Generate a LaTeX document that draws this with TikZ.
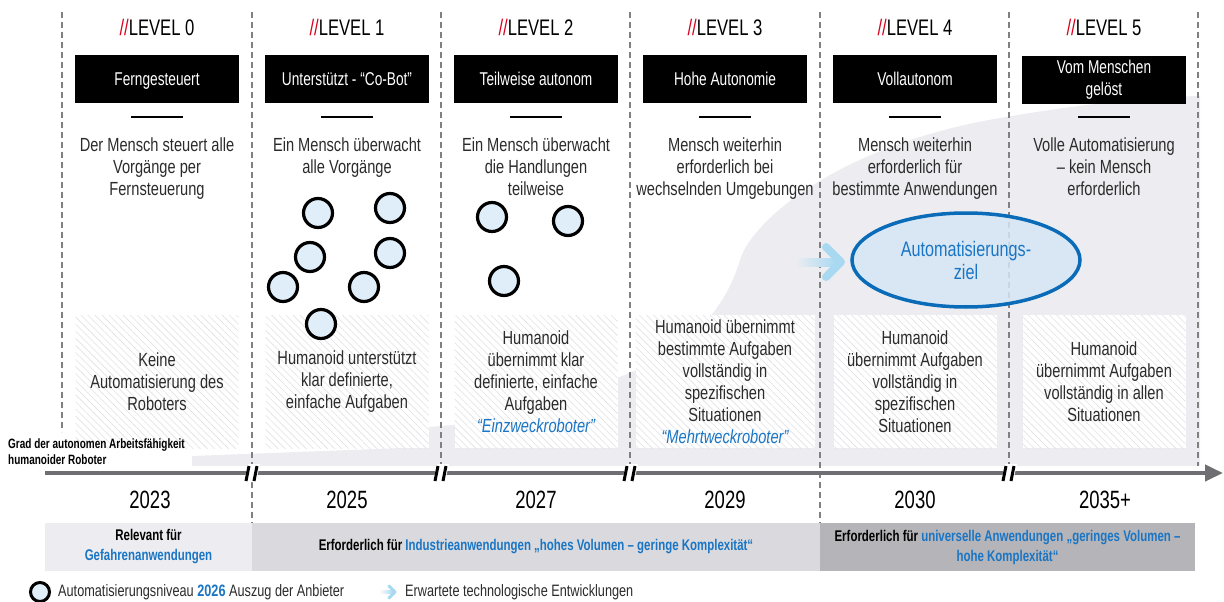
\documentclass[tikz,border=0pt]{standalone}
\usepackage{fontspec}
\setmainfont{Liberation Sans}[FakeStretch=0.77]
\newfontfamily\condfont{Liberation Sans}[FakeStretch=0.74]
\usepackage{xcolor}
\usepackage{tikz}
\usetikzlibrary{positioning}
\usetikzlibrary{arrows.meta}
\usetikzlibrary{patterns.meta}
\usetikzlibrary{shapes.geometric}

\definecolor{bggray}{HTML}{EDEDF1}
\definecolor{txtgray}{HTML}{2B2B2B}
\definecolor{lvlred}{HTML}{D8001C}
\definecolor{txtblue}{HTML}{1A75C4}
\definecolor{goalblue}{HTML}{0A6BB8}
\definecolor{goalfill}{HTML}{D5E6F4}
\definecolor{robofill}{HTML}{DFEEF8}
\definecolor{arrowblue}{HTML}{A9D9F1}
\definecolor{divgray}{HTML}{808080}
\definecolor{timegray}{HTML}{6E6E73}
\definecolor{hatchgray}{HTML}{E2E2E5}
\definecolor{bara}{HTML}{EDEDF1}
\definecolor{barb}{HTML}{DADADE}
\definecolor{barc}{HTML}{B5B5B9}

\begin{document}
\begin{tikzpicture}[x=1pt, y=-1pt, node distance=52pt, on grid, every node/.style={inner sep=0pt},
      lvl/.style={font=\condfont\fontsize{22.5}{24}\selectfont},
      lvlbox/.style={fill=black, text=white, minimum width=164pt, minimum height=48pt, align=center, font=\condfont\fontsize{18.5}{22}\selectfont},
      lvlone/.style={lvlbox, text height=13pt, text depth=0pt},
      rulebar/.style={fill=black, minimum width=52pt, minimum height=2.5pt},
      desc/.style={anchor=north, align=center, text=txtgray, font=\fontsize{19}{22}\selectfont},
      task/.style={minimum width=163pt, minimum height=133pt, align=center, text=txtgray, font=\fontsize{19}{22}\selectfont,
        preaction={fill=white}, pattern={Lines[angle=-45,distance=5pt,line width=0.6pt]}, pattern color=hatchgray},
      robot/.style={circle, draw=black, line width=3.2pt, fill=robofill, minimum size=29pt},
      goal/.style={ellipse, draw=goalblue, line width=3.5pt, fill=goalfill, fill opacity=0.85, text opacity=1,
        minimum width=228pt, minimum height=94pt, align=center, text=txtblue, font=\fontsize{21}{23}\selectfont},
      divider/.style={draw=divgray, line width=1.6pt, dash pattern=on 6pt off 4pt},
      brk/.style={draw=black, line width=3pt},
      yr/.style={font=\condfont\fontsize{25}{28}\selectfont},
      areabar/.style={minimum height=48pt, align=center, font=\condfont\bfseries\fontsize{15.5}{20}\selectfont}]

      \useasboundingbox (0,0) rectangle (1224,602);

      % background area
      \fill[bggray] (192,466) -- (192,456) -- (428,447) -- (428,427) -- (617,412) -- (617,378)
        .. controls (690,350) and (725,310) .. (740,260)
        .. controls (752,220) and (840,145) .. (1000,118)
        .. controls (1080,104) and (1150,97) .. (1200,96) -- (1200,466) -- cycle;

      \node[lvl] (lvl0) at (157,27) {\textcolor{lvlred}{//}LEVEL 0};
      \node[lvlone] (box0) [below=of lvl0] {Ferngesteuert};
      \node[rulebar] (rule0) [below=of box0, yshift=14pt] {};
      \node[desc] (desc0) at (157,138) {Der Mensch steuert alle\\Vorgänge per\\Fernsteuerung};
      \node[task] (task0) [below=of box0, yshift=-250.5pt] {Keine\\Automatisierung des\\Roboters};

      \node[lvl] (lvl1) at (347,27) {\textcolor{lvlred}{//}LEVEL 1};
      \node[lvlone] (box1) [below=of lvl1] {Unterstützt - “Co-Bot”};
      \node[rulebar] (rule1) [below=of box1, yshift=14pt] {};
      \node[desc] (desc1) at (347,138) {Ein Mensch überwacht\\alle Vorgänge};
      \node[task] (task1) [below=of box1, yshift=-250.5pt] {Humanoid unterstützt\\klar definierte,\\einfache Aufgaben};

      \node[lvl] (lvl2) at (536,27) {\textcolor{lvlred}{//}LEVEL 2};
      \node[lvlone] (box2) [below=of lvl2] {Teilweise autonom};
      \node[rulebar] (rule2) [below=of box2, yshift=14pt] {};
      \node[desc] (desc2) at (536,138) {Ein Mensch überwacht\\die Handlungen\\teilweise};
      \node[task] (task2) [below=of box2, yshift=-250.5pt] {Humanoid\\übernimmt klar\\definierte, einfache\\Aufgaben\\{\itshape\color{txtblue}“Einzweckroboter”}};

      \node[lvl] (lvl3) at (725,27) {\textcolor{lvlred}{//}LEVEL 3};
      \node[lvlone] (box3) [below=of lvl3] {Hohe Autonomie};
      \node[rulebar] (rule3) [below=of box3, yshift=14pt] {};
      \node[desc] (desc3) at (725,138) {Mensch weiterhin\\erforderlich bei\\wechselnden Umgebungen};
      \node[task, minimum width=179pt] (task3) [below=of box3, yshift=-250.5pt] {Humanoid übernimmt\\bestimmte Aufgaben\\vollständig in\\spezifischen\\Situationen\\{\itshape\color{txtblue}“Mehrtweckroboter”}};

      \node[lvl] (lvl4) at (915,27) {\textcolor{lvlred}{//}LEVEL 4};
      \node[lvlone] (box4) [below=of lvl4] {Vollautonom};
      \node[rulebar] (rule4) [below=of box4, yshift=14pt] {};
      \node[desc] (desc4) at (915,138) {Mensch weiterhin\\erforderlich für\\bestimmte Anwendungen};
      \node[task] (task4) [below=of box4, yshift=-250.5pt] {Humanoid\\übernimmt Aufgaben\\vollständig in\\spezifischen\\Situationen};

      \node[lvl] (lvl5) at (1104,27) {\textcolor{lvlred}{//}LEVEL 5};
      \node[lvlbox] (box5) [below=of lvl5, yshift=-1pt] {Vom Menschen\\gelöst};
      \node[rulebar] (rule5) [below=of lvl5, yshift=-38pt] {};
      \node[desc] (desc5) at (1104,138) {Volle Automatisierung\\– kein Mensch\\erforderlich};
      \node[task] (task5) [below=of lvl5, yshift=-302.5pt] {Humanoid\\übernimmt Aufgaben\\vollständig in allen\\Situationen};

      % level separators
      \draw[divider] (62,12) -- (62,432);
      \draw[divider] (252,12) -- (252,523);
      \draw[divider] (441,12) -- (441,466);
      \draw[divider] (630,12) -- (630,466);
      \draw[divider] (820,12) -- (820,523);
      \draw[divider] (1009,12) -- (1009,466);
      \draw[divider] (1198,12) -- (1198,466);

      % vendor levels 2026
      \node[robot] (r1a) at (318,213) {};
      \node[robot] (r1b) at (390,208) {};
      \node[robot] (r1c) at (310,257) {};
      \node[robot] (r1d) at (390,253) {};
      \node[robot] (r1e) at (283,287) {};
      \node[robot] (r1f) at (364,287) {};
      \node[robot] (r1g) at (321,324) {};
      \node[robot] (r2a) at (492,217) {};
      \node[robot] (r2b) at (568,221) {};
      \node[robot] (r2c) at (504,281) {};

      % target
      \node[goal] (goal) at (966,260) {Automatisierungs-\\ziel};
      \shade[left color=bggray, right color=arrowblue] (795,258) rectangle (836,266);
      \draw[arrowblue, line width=8pt, line cap=round, line join=round] (826,247) -- (841,262) -- (826,277);

      \node[anchor=west, align=left, font=\condfont\bfseries\fontsize{13.5}{16}\selectfont] (axis) at (8,452) {Grad der autonomen Arbeitsfähigkeit\\humanoider Roboter};

      % timeline
      \coordinate (tl0) at (45,473);
      \coordinate (tl1) at (1223,473);
      \draw[timegray, line width=4.4pt, -{Triangle[length=18pt,width=16pt]}] (tl0) -- (tl1);

      \fill[white] (244,482) -- (248,464) -- (260,464) -- (256,482) -- cycle;
      \draw[brk] (246,481) -- (249,466) (254,481) -- (257,466);
      \fill[white] (433,482) -- (437,464) -- (449,464) -- (445,482) -- cycle;
      \draw[brk] (435,481) -- (438,466) (443,481) -- (446,466);
      \fill[white] (622,482) -- (626,464) -- (638,464) -- (634,482) -- cycle;
      \draw[brk] (624,481) -- (627,466) (632,481) -- (635,466);
      \fill[white] (1001,482) -- (1005,464) -- (1017,464) -- (1013,482) -- cycle;
      \draw[brk] (1003,481) -- (1006,466) (1011,481) -- (1014,466);

      \node[yr] (yr0) at (150,500) {2023};
      \node[yr] (yr1) at (347,500) {2025};
      \node[yr] (yr2) at (536,500) {2027};
      \node[yr] (yr3) at (725,500) {2029};
      \node[yr] (yr4) at (915,500) {2030};
      \node[yr] (yr5) at (1105,500) {2035+};

      % application areas
      \node[areabar, fill=bara, minimum width=207pt] (area0) at (148.5,547) {Relevant für\\\textcolor{txtblue}{Gefahrenanwendungen}};
      \node[areabar, fill=barb, minimum width=568pt] (area1) at (536,547) {Erforderlich für \textcolor{txtblue}{Industrieanwendungen „hohes Volumen – geringe Komplexität“}};
      \node[areabar, fill=barc, minimum width=375pt] (area2) at (1007.5,547) {Erforderlich für \textcolor{txtblue}{universelle Anwendungen „geringes Volumen –}\\\textcolor{txtblue}{hohe Komplexität“}};

      % legend
      \node[robot, minimum size=19pt, line width=3pt] (legrobot) at (40,592) {};
      \node[anchor=west, text=txtgray, font=\fontsize{16.5}{18}\selectfont] (legtext) at (58,592) {Automatisierungsniveau \textcolor{txtblue}{\bfseries 2026} Auszug der Anbieter};
      \shade[left color=white, right color=arrowblue] (379,590.5) rectangle (393,593.5);
      \draw[arrowblue, line width=3pt, line cap=round, line join=round] (389,586) -- (395,592) -- (389,598);
      \node[anchor=west, text=txtgray, font=\fontsize{16.5}{18}\selectfont] (legarrow) at (405,592) {Erwartete technologische Entwicklungen};

    \end{tikzpicture}
\end{document}
